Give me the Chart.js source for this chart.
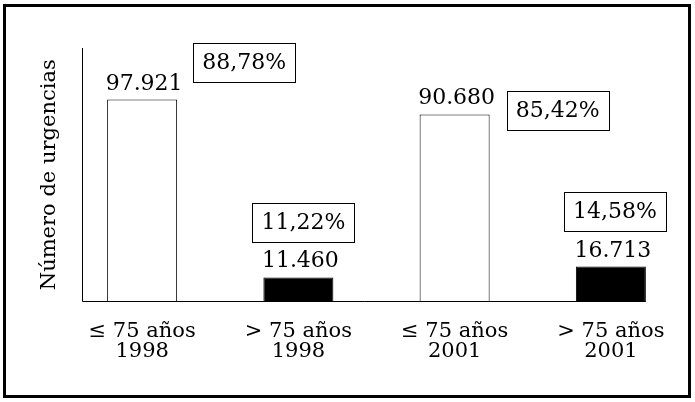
<!DOCTYPE html>
<html>
<head>
<meta charset="utf-8">
<script src="https://cdn.jsdelivr.net/npm/chart.js@4/dist/chart.umd.min.js"></script>
<style>
  html, body { margin: 0; padding: 0; background: #fff; }
  #wrap { position: relative; width: 695px; height: 402px; }
  #frame { position: absolute; left: 3px; top: 4px; width: 682px; height: 388px; border: 3px solid #000; pointer-events: none; }
  canvas { position: absolute; left: 0; top: 0; }
</style>
</head>
<body>
<div id="wrap">
  <canvas id="c" width="695" height="402"></canvas>
  <div id="frame"></div>
</div>
<script>
// ---- data ----
const categories = [["\u2264 75 a\u00f1os", "1998"], ["> 75 a\u00f1os", "1998"], ["\u2264 75 a\u00f1os", "2001"], ["> 75 a\u00f1os", "2001"]];
const urgencias = [97921, 11460, 90680, 16713];
const valueLabels = ["97.921", "11.460", "90.680", "16.713"];
const shareLabels = ["88,78%", "11,22%", "85,42%", "14,58%"];
const yTitle = "N\u00famero de urgencias";

// ---- styles ----
const barFills = ["#ffffff", "#000000", "#ffffff", "#000000"];
const shareOffsets = [[102, -37], [5, -55], [103, -4], [4, -55]]; // box centre relative to bar centre / bar top
const FONT = "'DejaVu Serif', 'Liberation Serif', serif";

const annotate = {
  id: 'annotate',
  afterDatasetsDraw(chart) {
    const ctx = chart.ctx;
    const meta = chart.getDatasetMeta(0);
    const bars = meta.data;
    const area = chart.chartArea;
    const first = bars[0], last = bars[bars.length - 1];
    const axisX = Math.round(first.x - first.width / 2 - 25) + 0.5;
    const baseY = Math.round(chart.scales.y.getPixelForValue(0)) + 0.5;
    ctx.save();
    ctx.strokeStyle = '#000';
    ctx.lineWidth = 1;
    ctx.beginPath();
    ctx.moveTo(axisX, area.top);
    ctx.lineTo(axisX, baseY);
    ctx.lineTo(last.x + last.width / 2, baseY);
    ctx.stroke();

    // y title
    ctx.fillStyle = '#000';
    ctx.font = "21px " + FONT;
    ctx.textAlign = 'center';
    ctx.textBaseline = 'middle';
    ctx.translate(axisX - 33, (area.top + baseY) / 2);
    ctx.rotate(-Math.PI / 2);
    ctx.fillText(yTitle, 0, 0);
    ctx.restore();

    ctx.save();
    ctx.fillStyle = '#000';
    ctx.strokeStyle = '#000';
    ctx.lineWidth = 1;
    ctx.font = "22px " + FONT;
    ctx.textAlign = 'center';
    bars.forEach((b, i) => {
      ctx.textBaseline = 'alphabetic';
      ctx.fillText(valueLabels[i], b.x + 2, b.y - 10);
      const cx = b.x + shareOffsets[i][0];
      const cy = b.y + shareOffsets[i][1];
      const w = ctx.measureText(shareLabels[i]).width + 18;
      const h = 39;
      ctx.strokeRect(Math.round(cx - w / 2) + 0.5, Math.round(cy - h / 2) + 0.5, Math.round(w), h);
      ctx.textBaseline = 'middle';
      ctx.fillText(shareLabels[i], cx, cy + 1);
    });
    ctx.restore();
  }
};

new Chart(document.getElementById('c'), {
  type: 'bar',
  data: {
    labels: categories,
    datasets: [{
      data: urgencias,
      backgroundColor: barFills,
      borderColor: '#000',
      borderWidth: 1,
      borderSkipped: 'bottom',
      categoryPercentage: 1,
      barPercentage: 0.448
    }]
  },
  options: {
    responsive: false,
    animation: false,
    events: [],
    layout: { padding: { left: 64, right: 6, top: 48, bottom: 19 } },
    plugins: { legend: { display: false }, tooltip: { enabled: false } },
    scales: {
      x: {
        offset: true,
        grid: { display: false, drawTicks: false },
        border: { display: false },
        ticks: {
          color: '#000',
          padding: 21,
          maxRotation: 0,
          autoSkip: false,
          font: { family: FONT, size: 21, lineHeight: '20px' }
        }
      },
      y: {
        display: false,
        min: 0,
        max: 123000
      }
    }
  },
  plugins: [annotate]
});
</script>
</body>
</html>
